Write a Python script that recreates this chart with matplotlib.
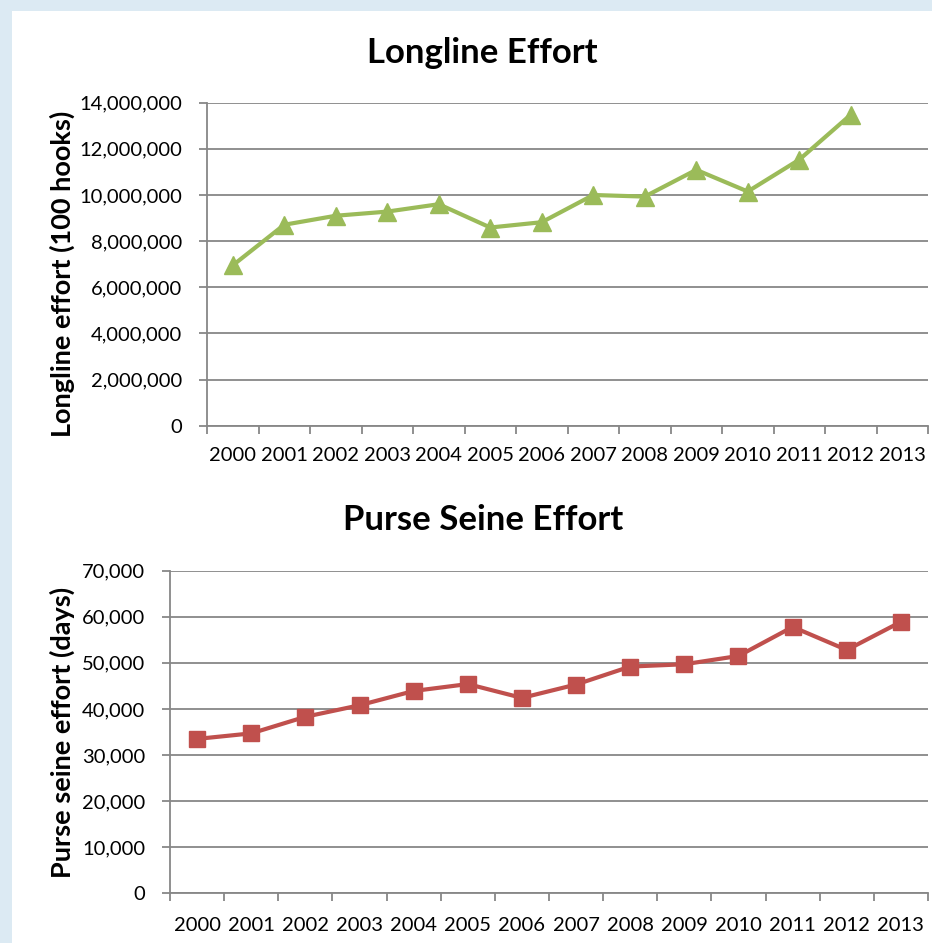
import matplotlib
matplotlib.use("Agg")
import matplotlib.pyplot as plt
from matplotlib.ticker import FuncFormatter, FixedLocator
from matplotlib.patches import Rectangle

years = ["2000", "2001", "2002", "2003", "2004", "2005", "2006",
         "2007", "2008", "2009", "2010", "2011", "2012", "2013"]
longline = [6.95e6, 8.71e6, 9.10e6, 9.28e6, 9.60e6, 8.59e6, 8.82e6,
            10.0e6, 9.93e6, 11.09e6, 10.15e6, 11.53e6, 13.48e6, None]
purse_seine = [33500, 34700, 38300, 40800, 43900, 45400, 42400,
               45300, 49200, 49700, 51500, 57800, 52800, 58900]

W, H = 932, 943
fig = plt.figure(figsize=(W / 100, H / 100), dpi=100)
fig.patch.set_facecolor("#dceaf3")
fig.patches.append(Rectangle((12 / W, 0), 1, 1 - 11 / H, transform=fig.transFigure,
                             facecolor="white", edgecolor="none", zorder=-5))

FONT = "Lato"
GRID = "#878787"


def style(ax, ymax, ystep, fmt, xpad):
    n = len(years)
    ax.set_xlim(-0.5, n - 0.5)
    ax.set_ylim(0, ymax)
    ax.set_facecolor("none")
    for s in ["top", "right"]:
        ax.spines[s].set_visible(False)
    for s in ["left", "bottom"]:
        ax.spines[s].set_color(GRID)
        ax.spines[s].set_linewidth(1.3)
    ax.yaxis.set_major_locator(FixedLocator([i * ystep for i in range(int(ymax / ystep) + 1)]))
    ax.yaxis.set_major_formatter(FuncFormatter(fmt))
    ax.grid(axis="y", color=GRID, linewidth=1.3)
    ax.set_axisbelow(True)
    ax.set_xticks(range(n))
    ax.set_xticklabels(years)
    ax.set_xticks([i - 0.5 for i in range(n + 1)], minor=True)
    ax.tick_params(axis="x", which="major", length=0, pad=xpad, labelsize=14.5)
    ax.tick_params(axis="x", which="minor", length=6, width=1.3, color=GRID, direction="out")
    ax.tick_params(axis="y", which="major", length=6, width=1.3, color=GRID, direction="out",
                   labelsize=14.5, pad=12)
    for lab in ax.get_xticklabels() + ax.get_yticklabels():
        lab.set_fontfamily(FONT)


# Longline
ax1 = fig.add_axes([207 / W, 1 - 425.7 / H, (928 - 207) / W, (425.7 - 102.7) / H])
xs = [i for i, v in enumerate(longline) if v is not None]
ys = [v for v in longline if v is not None]
ax1.plot(xs, ys, color="#9bbb59", linewidth=3, marker="^", markersize=13,
         markeredgecolor="#9bbb59", clip_on=False, zorder=3)
style(ax1, 14e6, 2e6, lambda v, p: f"{int(v):,}", 15)

# Purse seine
ax2 = fig.add_axes([170 / W, 1 - 893.3 / H, (928 - 170) / W, (893.3 - 570.7) / H])
ax2.plot(range(len(purse_seine)), purse_seine, color="#c0504d", linewidth=3, marker="s",
         markersize=11.5, markeredgecolor="#c0504d", clip_on=False, zorder=3)
style(ax2, 70000, 10000, lambda v, p: f"{int(v):,}", 17)

fig.text(482 / W, 1 - 53 / H, "Longline Effort", ha="center", va="center",
         fontsize=25, fontweight="bold", fontfamily=FONT)
fig.text(483 / W, 1 - 520 / H, "Purse Seine Effort", ha="center", va="center",
         fontsize=25, fontweight="bold", fontfamily=FONT)
fig.text(62 / W, 1 - 274 / H, "Longline effort (100 hooks)", ha="center", va="center",
         rotation=90, fontsize=19.5, fontweight="bold", fontfamily=FONT)
fig.text(62 / W, 1 - 732 / H, "Purse seine effort (days)", ha="center", va="center",
         rotation=90, fontsize=19.5, fontweight="bold", fontfamily=FONT)

fig.savefig("out.png", dpi=100, facecolor=fig.get_facecolor())
